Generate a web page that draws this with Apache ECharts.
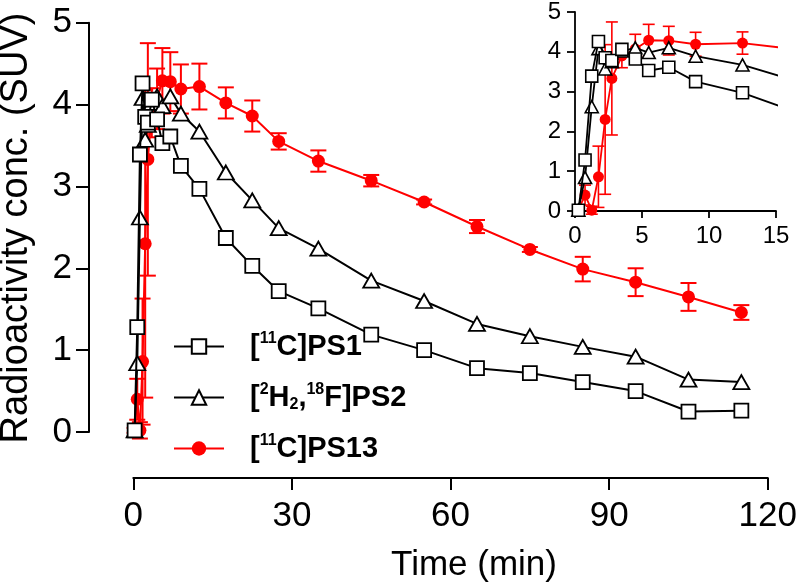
<!DOCTYPE html>
<html><head><meta charset="utf-8">
<script src="https://cdn.jsdelivr.net/npm/echarts@6/dist/echarts.min.js"></script>
<style>html,body{margin:0;padding:0;background:#fff}#c{width:800px;height:587px}</style>
</head><body><div id="c"></div>
<script>
// Mid-frame times (min)
const times = [0.25,0.75,1.25,1.75,2.25,2.75,3.5,4.5,5.5,7,9,12.5,17.5,22.5,27.5,35,45,55,65,75,85,95,105,115];
// [11C]PS1 (SUV)
const ps1 = [0.02,1.28,3.39,4.26,3.85,3.78,4.06,3.82,3.53,3.61,3.25,2.97,2.37,2.03,1.72,1.51,1.19,1.00,0.78,0.72,0.61,0.50,0.25,0.26];
// [2H2,18F]PS2 (SUV)
const ps2 = [0.02,0.84,2.62,4.08,3.57,3.75,4.02,4.10,3.98,4.10,3.89,3.67,3.17,2.83,2.49,2.24,1.85,1.60,1.32,1.17,1.04,0.92,0.64,0.61];
// [11C]PS13 (SUV) and its error
const ps13 = [0.02,0.40,0.02,0.86,2.30,3.33,3.90,4.07,4.29,4.28,4.19,4.22,4.02,3.86,3.55,3.31,3.07,2.81,2.51,2.23,1.99,1.83,1.65,1.46];
const ps13Err = [0.03,0.25,0.10,0.77,1.88,1.42,0.30,0.37,0.40,0.36,0.30,0.28,0.19,0.19,0.10,0.13,0.07,0.03,0.08,0.03,0.15,0.17,0.17,0.09];
const seriesNames = ['PS1','PS2','PS13'];
const legendLabels = {
  PS1: '[{sup|11}C]PS1',
  PS2: '[{sup|2}H{sub|2},{sup|18}F]PS2',
  PS13: '[{sup|11}C]PS13'
};

const FONT = '"Liberation Sans", Arial, Helvetica, sans-serif';
const chart = echarts.init(document.getElementById('c'), null, {renderer:'canvas'});

function pairs(arr){ return times.map((t,i)=>[t, arr[i]]); }
const errData = times.map((t,i)=>[t, ps13[i], ps13Err[i]]);

function errRender(capHalf, lw, limitX){
  return function(params, api){
    const x = api.value(0), y = api.value(1), e = api.value(2);
    if (x > limitX) return null;
    const top = api.coord([x, y + e]), bot = api.coord([x, y - e]);
    const style = {stroke:'#ff0000', lineWidth: lw};
    return {type:'group', children:[
      {type:'line', shape:{x1:top[0],y1:top[1],x2:bot[0],y2:bot[1]}, style:style},
      {type:'line', shape:{x1:top[0]-capHalf,y1:top[1],x2:top[0]+capHalf,y2:top[1]}, style:style},
      {type:'line', shape:{x1:bot[0]-capHalf,y1:bot[1],x2:bot[0]+capHalf,y2:bot[1]}, style:style}
    ]};
  };
}

function axisCommon(fs, tickLen, margin, lw){
  return {
    axisLine:{show:true, onZero:false, lineStyle:{color:'#000', width:lw}},
    axisTick:{show:true, inside:false, length:tickLen, lineStyle:{color:'#000', width:lw}},
    axisLabel:{color:'#000', fontSize:fs, fontFamily:FONT, margin:margin},
    splitLine:{show:false}
  };
}

function lineSeries(name, data, gi, opts){
  return Object.assign({
    name:name, type:'line', xAxisIndex:gi, yAxisIndex:gi, data:data,
    clip:true, animation:false
  }, opts);
}

const series = [];
[0,1].forEach(gi=>{
  const main = gi === 0;
  series.push({
    type:'custom', xAxisIndex:gi, yAxisIndex:gi, data:errData,
    encode:{x:0,y:1}, renderItem: errRender(main?8:6, main?2:1.6, main?1000:15),
    z:1, silent:true, animation:false
  });
  series.push(lineSeries('PS13', pairs(ps13), gi, {
    symbol:'circle', symbolSize: main?13:11,
    itemStyle:{color:'#ff0000'}, lineStyle:{color:'#ff0000', width: main?2:1.8}, z:2
  }));
  series.push(lineSeries('PS2', pairs(ps2), gi, {
    symbol:'triangle', symbolSize: main?[16,14]:[13,12],
    itemStyle:{color:'#ffffff', borderColor:'#000', borderWidth: main?1.8:1.6},
    lineStyle:{color:'#000', width: main?2:1.8}, z:3
  }));
  series.push(lineSeries('PS1', pairs(ps1), gi, {
    symbol:'rect', symbolSize: main?14:12,
    itemStyle:{color:'#ffffff', borderColor:'#000', borderWidth: main?1.8:1.6},
    lineStyle:{color:'#000', width: main?2:1.8}, z:4
  }));
});

const option = {
  animation:false,
  backgroundColor:'#ffffff',
  grid:[
    {left:133.3, top:22.7, width:636, height:409.3, containLabel:false},
    {left:575, top:11.7, width:201, height:199.3, containLabel:false}
  ],
  xAxis:[
    Object.assign({type:'value', gridIndex:0, min:0, max:120, interval:30, offset:46}, axisCommon(35,12,21,2)),
    Object.assign({type:'value', gridIndex:1, min:0, max:15, interval:5}, axisCommon(24,7,13,1.8))
  ],
  yAxis:[
    Object.assign({type:'value', gridIndex:0, min:0, max:5, interval:1, offset:44.3}, axisCommon(35,13,17,2)),
    Object.assign({type:'value', gridIndex:1, min:0, max:5, interval:1}, axisCommon(24,8,14,1.8))
  ],
  legend:{
    data:seriesNames, orient:'vertical', left:168, top:326,
    itemWidth:50, itemHeight:18, itemGap:20,
    formatter:function(n){ return legendLabels[n]; },
    textStyle:{
      color:'#000', fontSize:29, fontWeight:'bold', fontFamily:FONT, lineHeight:31,
      padding:[0,0,0,21],
      rich:{
        sup:{fontSize:16, fontWeight:'bold', fontFamily:FONT, color:'#000', lineHeight:16, verticalAlign:'top'},
        sub:{fontSize:16, fontWeight:'bold', fontFamily:FONT, color:'#000', lineHeight:16, verticalAlign:'bottom'}
      }
    },
    selectedMode:false
  },
  graphic:[
    {type:'text', x:474, y:565, style:{text:'Time (min)', fontSize:35, fontFamily:FONT, fill:'#000', textAlign:'center', textVerticalAlign:'middle'}},
    {type:'text', x:17, y:228, rotation:Math.PI/2, style:{text:'Radioactivity conc. (SUV)', fontSize:38, fontFamily:FONT, fill:'#000', textAlign:'center', textVerticalAlign:'middle'}}
  ],
  series:series
};
chart.setOption(option);
</script>
</body></html>
